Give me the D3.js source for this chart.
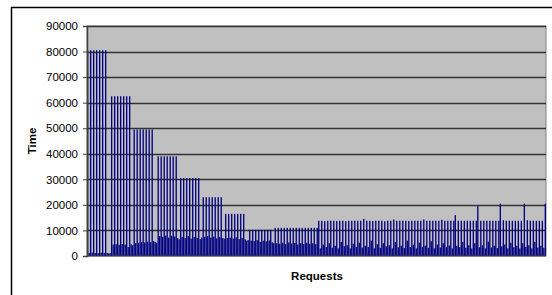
<!DOCTYPE html>
<html>
<head>
<meta charset="utf-8">
<script src="https://cdn.jsdelivr.net/npm/d3@7/dist/d3.min.js"></script>
<style>
  body { margin: 0; background: #fff; }
  svg { display: block; font-family: "Liberation Sans", Arial, sans-serif; }
</style>
</head>
<body>
<svg id="chart" width="552" height="295"></svg>
<script>
// y axis ticks
var yTicks = [0, 10000, 20000, 30000, 40000, 50000, 60000, 70000, 80000, 90000];

// response time per request
var seg80k = [80500,1200,80500,1300,80500,1200,80500,1100,80500,1300,80500,1200,80500,1200,1000,1100];
var seg62k = [62500,4500,62500,4600,62500,4400,62500,4700,62500,4500,62500,3500,62500,4600,4200];
var seg49k = [49500,5000,49500,5200,49500,5500,49500,5300,49500,5600,49500,5400,49500,5800,5500,5200];
var seg39k = [39000,7800,39000,7500,39000,8000,39000,7200,39000,7900,39000,7600,39000,7000,6500];
var seg30k = [30500,7500,30500,7000,30500,7800,30500,6800,30500,7400,30500,7100,30500,6600,7200];
var seg23k = [23000,7500,23000,7800,23000,7200,23000,7600,23000,6900,23000,7500,23000,7000,6800];
var seg16k = [16500,7000,16500,7200,16500,6800,16500,7300,16500,6600,16500,7000,16500,6500,6000,6200];
var seg10k = [10300,6000,10300,5800,10300,6200,10300,5500,10300,6000,10300,5700,10300,6100,10300,5400,5000];
var seg11k = [11000,5000,11000,4800,11000,5200,11000,4600,11000,5300,11000,4900,11000,5100,11000,4500,
              11000,5000,11000,4700,11000,5200,11000,4800,11000,5000,11000,4600,11000];
var seg14k = [
  13800,3000,13800,4500,13600,3500,13800,5000,13800,3200,
  13800,4000,13700,3000,13800,5500,13800,3800,13600,4200,
  13800,3000,13800,4800,13800,3600,13800,5200,13800,3300,
  14500,4000,13800,3500,13800,6000,13700,3000,13800,4600,
  13800,3200,13800,5000,13600,3800,13800,4200,13800,3000,
  14300,5500,13800,3400,13800,4000,13800,3100,13800,6000,
  13700,3500,13800,4400,13800,3000,13800,5200,13800,3600,
  14300,4000,13800,3200,13800,5800,13800,3000,13800,4500,
  13800,3300,14200,5000,13800,3600,13800,4100,13800,3000,
  13800,16000,4000,13800,3500,13800,5500,13800,3200,13800,
  4200,13800,3000,13800,5000,13800,19500,3400,13800,4200,
  13800,3000,13800,5600,13800,3300,13800,4000,13800,3100,
  13800,20500,3800,14000,4500,13800,3000,13800,5200,13800,
  3400,13800,4000,13800,3000,13800,5000,20500,3600,14000,
  4200,13800,3000,13800,5500,13800,3300,13800,4000,13800,
  3200,20500
];

var times = [].concat(seg80k, seg62k, seg49k, seg39k, seg30k, seg23k, seg16k, seg10k, seg11k, seg14k);

var margin = {left: 87, right: 6, top: 26, bottom: 39};
var W = 552, H = 295;

var svg = d3.select("#chart");

// chart area border (top and left visible)
svg.append("path")
    .attr("d", "M11.5,295V7.5H552")
    .attr("fill", "none")
    .attr("stroke", "#000")
    .attr("stroke-width", 1.5);

var x = d3.scaleBand()
    .domain(d3.range(times.length))
    .range([margin.left, W - margin.right])
    .paddingInner(0.12)
    .paddingOuter(0);

var y = d3.scaleLinear()
    .domain([0, 90000])
    .range([H - margin.bottom, margin.top]);

// plot background
svg.append("rect")
    .attr("x", margin.left)
    .attr("y", margin.top)
    .attr("width", W - margin.right - margin.left)
    .attr("height", y(0) - margin.top)
    .attr("fill", "#c0c0c0")
    .attr("stroke", "#808080")
    .attr("stroke-width", 1);

// gridlines
svg.append("g")
    .selectAll("line")
    .data(yTicks.filter(d => d > 0))
    .join("line")
    .attr("x1", margin.left)
    .attr("x2", W - margin.right)
    .attr("y1", d => Math.round(y(d)) + 0.5)
    .attr("y2", d => Math.round(y(d)) + 0.5)
    .attr("stroke", "#333")
    .attr("stroke-width", 1.3);

// bars
svg.append("g")
    .selectAll("rect")
    .data(times)
    .join("rect")
    .attr("x", (d, i) => x(i))
    .attr("width", x.bandwidth())
    .attr("y", d => y(d))
    .attr("height", d => y(0) - y(d))
    .attr("fill", "#000080");

// y axis
var yAxis = d3.axisLeft(y)
    .tickValues(yTicks)
    .tickFormat(d3.format("d"))
    .tickSize(4)
    .tickPadding(5);

var gy = svg.append("g")
    .attr("transform", "translate(" + margin.left + ",0)")
    .call(yAxis);
gy.select(".domain").attr("stroke", "#404040").attr("stroke-width", 1.5);
gy.selectAll(".tick line").attr("stroke", "#404040");
gy.selectAll(".tick text")
    .attr("fill", "#000")
    .style("font-size", "11.5px")
    .style("font-family", "'Liberation Sans', Arial, sans-serif");

// x axis line
svg.append("line")
    .attr("x1", margin.left)
    .attr("x2", W - margin.right)
    .attr("y1", y(0))
    .attr("y2", y(0))
    .attr("stroke", "#404040")
    .attr("stroke-width", 1);

// axis titles
svg.append("text")
    .attr("transform", "translate(36," + ((y(0) + margin.top) / 2) + ") rotate(-90)")
    .attr("text-anchor", "middle")
    .style("font-size", "11.5px")
    .style("font-weight", "bold")
    .text("Time");

svg.append("text")
    .attr("x", 317)
    .attr("y", 280)
    .attr("text-anchor", "middle")
    .style("font-size", "11.5px")
    .style("font-weight", "bold")
    .text("Requests");
</script>
</body>
</html>
